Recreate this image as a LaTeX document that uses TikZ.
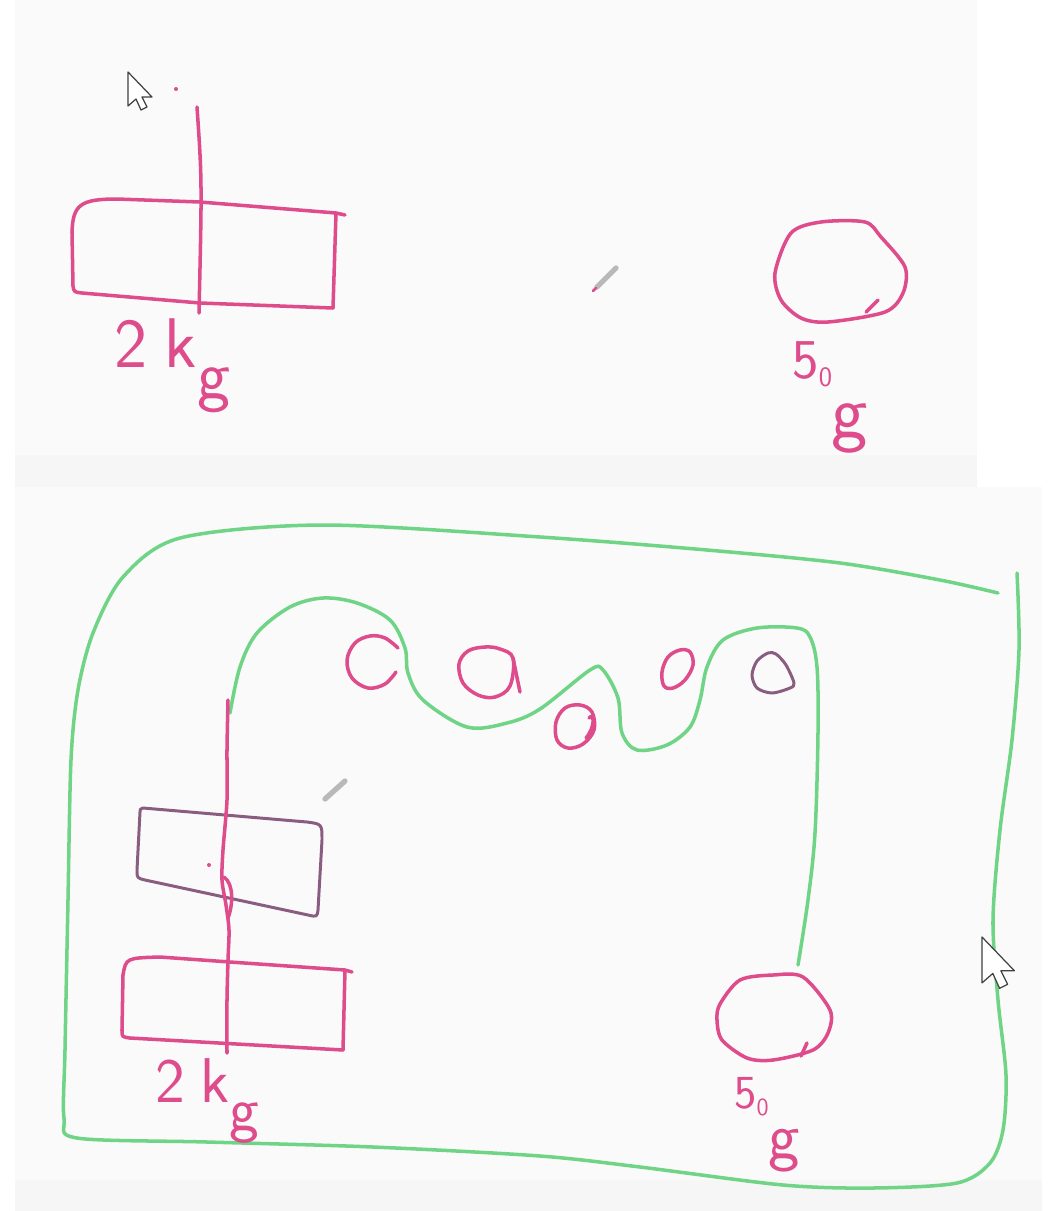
\documentclass[tikz,border=0pt]{standalone}
\usepackage{amsmath}

\definecolor{inkpink}{RGB}{222,76,140}
\definecolor{inkgreen}{RGB}{112,212,134}
\definecolor{inkpurple}{RGB}{138,92,128}
\definecolor{boardbg}{RGB}{250,250,250}

\begin{document}
\begin{tikzpicture}[x=0.02cm, y=-0.02cm, line cap=round, line join=round,
    pinkline/.style={draw=inkpink, line width=2pt},
    greenline/.style={draw=inkgreen, line width=2pt},
    purpleline/.style={draw=inkpurple, line width=1.7pt},
    handtext/.style={text=inkpink, inner sep=0pt, anchor=base west},
    cursorshape/.style={fill=white, draw=black!75, line width=0.7pt},
    pencilshape/.style={draw=gray!55, line width=3pt}]

    % --- Board ---
    \useasboundingbox (0,0) rectangle (1056,1211);
    \fill[white] (0,0) rectangle (1056,1211);
    \fill[boardbg] (15,0) rectangle (977,455);
    \fill[gray!7] (15,455) rectangle (977,487);
    \fill[boardbg] (15,487) rectangle (1042,1180);
    \fill[gray!7] (15,1180) rectangle (1042,1211);

    % --- Top sketch: block on a string ---
    \fill[inkpink] (176,89) circle (2);
    \draw[pinkline] (197,107) .. controls (202,180) .. (199,313);
    \draw[pinkline] (345,215) -- (336,213) -- (200,202) -- (117,199)
        .. controls (80,199) and (73,205) .. (72,232) -- (73,286)
        .. controls (74,292) .. (82,293) -- (200,303) -- (333,308) -- (336,213);
    \node[handtext, font=\fontsize{40}{40}\selectfont\sffamily] (massTopA) at (114,367)
        {2\hspace{0.25em}k\raisebox{-0.45em}{g}};

    % --- Top sketch: small ball ---
    \draw[pinkline] plot[smooth cycle, tension=0.5] coordinates {
        (775,273) (791,233) (821,222) (865,222) (881,237) (905,267)
        (903,293) (885,312) (828,322) (801,318) (781,300)};
    \draw[pinkline] (878,300) -- (866,312);
    \node[handtext, font=\fontsize{32}{32}\selectfont\sffamily] (massTopB) at (792,378)
        {5\raisebox{-5pt}{\fontsize{16}{16}\selectfont 0}\raisebox{-34pt}{\fontsize{44}{44}\selectfont g}};

    % --- Outer loop (green) ---
    \draw[greenline] plot[smooth, tension=0.5] coordinates {
        (998,593) (940,580) (840,563) (707,550) (540,537) (323,525)
        (180,538) (123,577) (93,633) (78,690) (71,760) (68,900)
        (65,1050) (64,1118) (77,1138) (207,1142) (373,1147) (540,1156)
        (640,1167) (783,1185) (873,1188) (957,1183) (990,1163) (1003,1130)
        (1006,1075) (998,1000) (993,920) (1000,830) (1012,740)
        (1019,650) (1017,573)};

    % --- Inner loop (green) ---
    \draw[greenline] plot[smooth, tension=0.55] coordinates {
        (230,713) (240,667) (257,633) (290,607) (323,598) (357,603)
        (390,620) (405,648) (408,673) (423,700) (467,727) (507,723)
        (540,709) (590,670) (603,670) (618,698) (622,733) (637,750)
        (667,745) (690,727) (700,700) (707,667) (723,640) (757,628)
        (797,628) (810,637) (817,667) (818,733) (815,833) (808,900) (798,965)};

    % --- Small blobs ---
    \draw[pinkline] plot[smooth, tension=0.6] coordinates {
        (398,648) (385,638) (370,636) (355,643) (347,660) (352,678)
        (368,688) (385,684) (396,672)};
    \draw[pinkline] plot[smooth cycle, tension=0.6] coordinates {
        (513,658) (500,649) (485,647) (468,651) (459,664) (463,683)
        (478,695) (495,697) (510,686)};
    \draw[pinkline] (513,658) -- (520,692);
    \draw[pinkline] plot[smooth cycle, tension=0.6] coordinates {
        (592,712) (580,705) (565,708) (556,722) (557,740) (568,748)
        (583,744) (594,730)};
    \draw[pinkline] (586,738) .. controls (596,726) and (594,712) .. (589,718);
    \draw[pinkline] plot[smooth cycle, tension=0.6] coordinates {
        (690,652) (680,650) (668,657) (662,672) (664,686) (673,688)
        (685,680) (693,665)};
    \draw[purpleline] plot[smooth cycle, tension=0.5] coordinates {
        (768,653) (757,661) (752,675) (757,688) (772,693) (790,688)
        (794,683) (786,665) (776,654)};

    % --- Bottom blocks and string ---
    \draw[purpleline] (143,808) -- (307,822) .. controls (322,824) .. (322,840)
        -- (318,910) .. controls (317,917) .. (308,915) -- (145,880)
        .. controls (137,878) .. (137,870) -- (140,812) .. controls (140,809) .. (143,808);
    \fill[inkpink] (209,865) circle (2);
    \draw[pinkline] plot[smooth, tension=0.5] coordinates {
        (228,700) (227,750) (227,800) (223,850) (222,880) (226,905)
        (229,930) (228,960) (227,1000) (227,1053)};
    \draw[pinkline] (224,877) .. controls (234,884) and (233,905) .. (228,918);
    \draw[pinkline] (352,972) -- (345,970) -- (230,962) -- (160,957)
        .. controls (126,958) .. (123,975) -- (122,1030)
        .. controls (122,1037) .. (130,1038) -- (343,1050) -- (345,970);
    \node[handtext, font=\fontsize{36}{36}\selectfont\sffamily] (massBotA) at (155,1102)
        {2\hspace{0.25em}k\raisebox{-0.45em}{g}};

    % --- Bottom ball ---
    \draw[pinkline] plot[smooth cycle, tension=0.5] coordinates {
        (717,1020) (720,1004) (740,980) (773,975) (803,977) (830,1010)
        (828,1033) (813,1050) (773,1060) (747,1058) (722,1040)};
    \draw[pinkline] (807,1043) -- (801,1056);
    \node[handtext, font=\fontsize{27}{27}\selectfont\sffamily] (massBotB) at (734,1108)
        {5\raisebox{-4pt}{\fontsize{14}{14}\selectfont 0}\raisebox{-29pt}{\fontsize{38}{38}\selectfont g}};

    % --- Screen cursors and pencils ---
    \draw[cursorshape, shift={(128,72)}]
        (0,0) -- (0,34) -- (8,27) -- (13,38) -- (19,35) -- (14,25) -- (24,25) -- cycle;
    \draw[cursorshape, shift={(982,937)}, scale=1.35]
        (0,0) -- (0,34) -- (8,27) -- (13,38) -- (19,35) -- (14,25) -- (24,25) -- cycle;
    \draw[pencilshape] (597,287) -- (616,268);
    \draw[inkpink, line width=1.5pt] (593,291) -- (596,288);
    \draw[pencilshape] (325,799) -- (345,781);

\end{tikzpicture}
\end{document}
